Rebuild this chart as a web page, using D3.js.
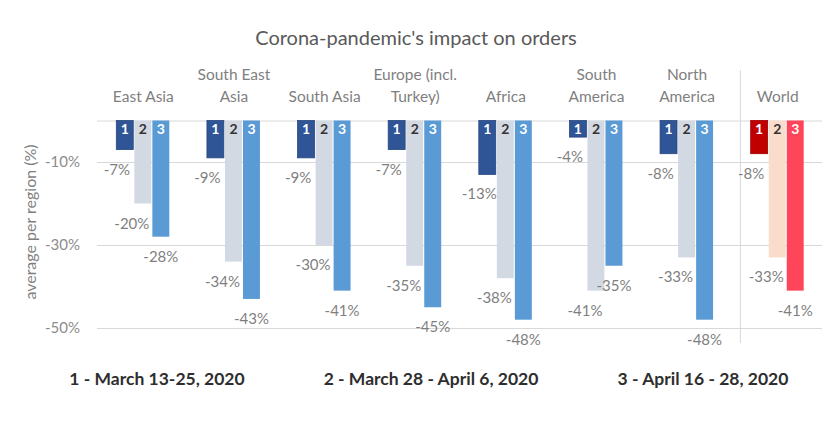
<!DOCTYPE html>
<html>
<head>
<meta charset="utf-8">
<script src="https://cdn.jsdelivr.net/npm/d3@7"></script>
<style>
  body { margin: 0; background: #fff; }
  text { font-family: Lato, "Open Sans", sans-serif; }
</style>
</head>
<body>
<div id="chart"></div>
<script>
const categories = ["East Asia", "South East Asia", "South Asia", "Europe (incl. Turkey)",
    "Africa", "South America", "North America", "World"];
const categoryLines = [["East Asia"], ["South East", "Asia"], ["South Asia"], ["Europe (incl.", "Turkey)"],
    ["Africa"], ["South", "America"], ["North", "America"], ["World"]];
const period1 = [-7, -9, -9, -7, -13, -4, -8, -8];
const period2 = [-20, -34, -30, -35, -38, -41, -33, -33];
const period3 = [-28, -43, -41, -45, -48, -35, -48, -41];
const seriesKeys = ["1", "2", "3"];
const yTicks = [0, -10, -30, -50];
const periodLabels = ["1 - March 13-25, 2020", "2 - March 28 - April 6, 2020", "3 - April 16 - 28, 2020"];

const W = 827, H = 440;
const margin = { top: 120.5, right: 5, bottom: 112, left: 97 },
    width = W - margin.left - margin.right,
    height = H - margin.top - margin.bottom;

const blues = ["#2f5597", "#d3d9e3", "#5b9bd5"];
const reds = ["#c00000", "#f9dccb", "#ff4559"];
const numColor = ["#fff", "#333", "#fff"];
const labelDx = [-8, -11, 0];

const svg = d3.select("#chart").append("svg")
    .attr("width", W)
    .attr("height", H);

svg.append("text")
    .attr("x", 416).attr("y", 45)
    .attr("text-anchor", "middle")
    .attr("font-size", 20)
    .attr("fill", "#595959")
    .text("Corona-pandemic's impact on orders");

const g = svg.append("g")
    .attr("transform", `translate(${margin.left},${margin.top})`);

const x = d3.scaleBand()
    .domain(categories)
    .range([0, width]);
const bw = x.bandwidth();

const xs = d3.scaleBand()
    .domain(seriesKeys)
    .range([bw / 2 - 26, bw / 2 + 27])
    .paddingInner(0.06);

const y = d3.scaleLinear()
    .domain([0, -50])
    .range([0, height]);

// gridlines + y labels
const yAxis = g.append("g").call(d3.axisLeft(y)
    .tickValues(yTicks)
    .tickSize(-width)
    .tickPadding(17)
    .tickFormat(d => d === 0 ? "" : d + "%"));
yAxis.select(".domain").remove();
yAxis.selectAll(".tick line").attr("stroke", "#d9d9d9");
yAxis.selectAll(".tick text")
    .attr("font-size", 15)
    .attr("fill", "#8c8c8c")
    .attr("font-family", "Lato, sans-serif");

// separator before World
g.append("line")
    .attr("x1", x("World") + 9).attr("x2", x("World") + 9)
    .attr("y1", 70 - margin.top).attr("y2", 343 - margin.top)
    .attr("stroke", "#d9d9d9");

// category labels
const catG = g.selectAll(".cat")
    .data(categories)
    .join("text")
    .attr("class", "cat")
    .attr("text-anchor", "middle")
    .attr("font-size", 15.5)
    .attr("fill", "#7f7f7f")
    .attr("transform", d => `translate(${x(d) + bw / 2 + 1}, -19)`);
catG.selectAll("tspan")
    .data((d, i) => categoryLines[i].map((t, j, arr) => ({ t, dy: (j - arr.length + 1) * 22 })))
    .join("tspan")
    .attr("x", 0)
    .attr("y", d => d.dy)
    .text(d => d.t);

const periods = [period1, period2, period3];
const rows = categories.map((c, i) => ({
    category: c,
    values: periods.map((p, k) => ({ key: seriesKeys[k], k, value: p[i], world: c === "World" }))
}));

const groups = g.selectAll(".grp")
    .data(rows)
    .join("g")
    .attr("transform", d => `translate(${x(d.category)},0)`);

groups.selectAll("rect")
    .data(d => d.values)
    .join("rect")
    .attr("x", d => xs(d.key))
    .attr("y", 0)
    .attr("width", xs.bandwidth())
    .attr("height", d => y(d.value))
    .attr("fill", d => (d.world ? reds : blues)[d.k])
    .attr("stroke", d => d.k === 0 ? d3.color((d.world ? reds : blues)[0]).darker(0.5) : "none")
    .attr("stroke-width", 0.8);

groups.selectAll(".num")
    .data(d => d.values)
    .join("text")
    .attr("class", "num")
    .attr("x", d => xs(d.key) + xs.bandwidth() / 2)
    .attr("y", 13)
    .attr("text-anchor", "middle")
    .attr("font-size", 14)
    .attr("font-weight", "bold")
    .attr("fill", d => numColor[d.k])
    .text(d => d.key);

groups.selectAll(".val")
    .data(d => d.values)
    .join("text")
    .attr("class", "val")
    .attr("x", d => xs(d.key) + xs.bandwidth() / 2 + labelDx[d.k])
    .attr("y", d => y(d.value) + 25)
    .attr("text-anchor", "middle")
    .attr("font-size", 15)
    .attr("fill", "#7f7f7f")
    .text(d => d.value + "%");

// y axis title
svg.append("text")
    .attr("transform", "translate(36,222) rotate(-90)")
    .attr("text-anchor", "middle")
    .attr("font-size", 16)
    .attr("fill", "#7f7f7f")
    .text("average per region (%)");

// period legend
const legendX = [157, 431, 703];
svg.selectAll(".period")
    .data(periodLabels)
    .join("text")
    .attr("class", "period")
    .attr("x", (d, i) => legendX[i])
    .attr("y", 385)
    .attr("text-anchor", "middle")
    .attr("font-size", 17.5)
    .attr("font-weight", "bold")
    .attr("fill", "#2e2e2e")
    .text(d => d);
</script>
</body>
</html>
